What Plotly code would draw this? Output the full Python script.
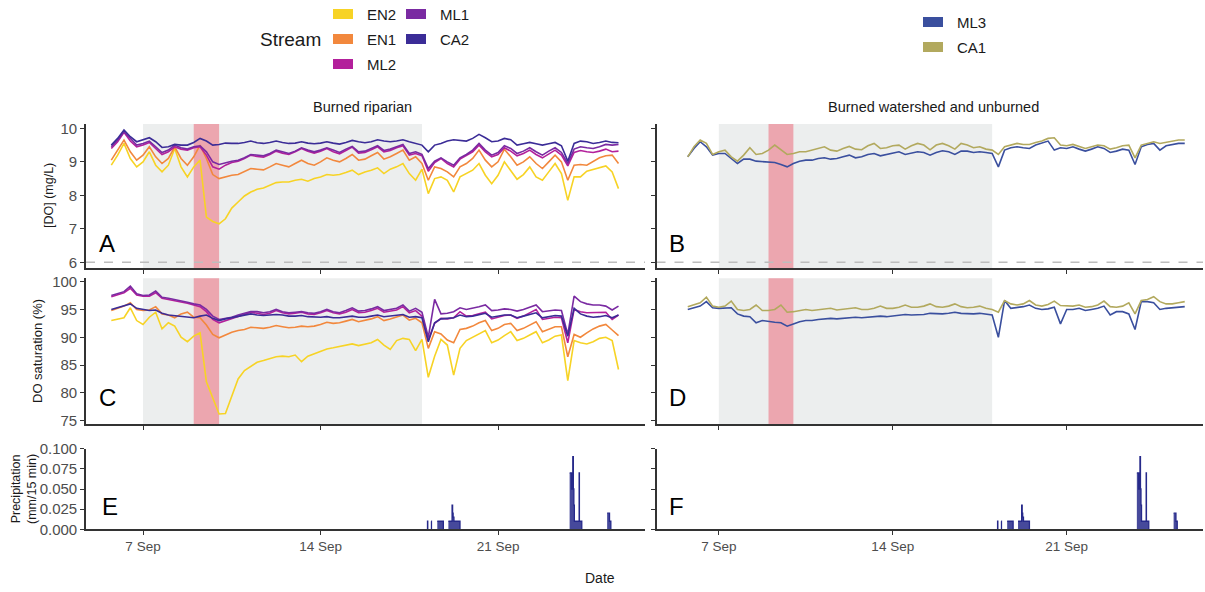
import pandas as pd
import plotly.graph_objects as go

# ---------------------------------------------------------------------------
# Data: 6-hourly dissolved-oxygen readings, 5 Sep 18:00 -> 25 Sep 18:00
# (first value = 5 Sep 18:00, then four readings per day: 00, 06, 12, 18 h)
# ---------------------------------------------------------------------------
obs_start = "2020-09-05 18:00"
n_obs = 81

# [DO] (mg/L) -- burned riparian streams
do_en2 = [8.90,
          9.20, 9.55, 9.10, 8.85,  9.00, 9.30, 8.90, 8.70,  8.90, 9.40, 8.85, 8.55,
          8.85, 9.05, 7.35, 7.22,  7.15, 7.30, 7.62, 7.80,  7.98, 8.10, 8.18, 8.22,
          8.30, 8.38, 8.40, 8.40,  8.45, 8.48, 8.42, 8.50,  8.55, 8.62, 8.60, 8.62,
          8.68, 8.75, 8.62, 8.70,  8.75, 8.82, 8.65, 8.78,  8.85, 8.95, 8.65, 8.45,
          8.78, 8.05, 8.50, 8.55,  8.45, 8.10, 8.55, 8.65,  8.75, 8.95, 8.60, 8.35,
          8.60, 9.00, 8.75, 8.48,  8.62, 8.85, 8.55, 8.45,  8.70, 8.95, 8.65, 7.85,
          8.55, 8.55, 8.72, 8.78,  8.82, 8.88, 8.70, 8.20]
do_en1 = [9.05,
          9.35, 9.65, 9.30, 9.05,  9.20, 9.45, 9.15, 8.95,  9.10, 9.45, 9.10, 8.90,
          9.15, 9.50, 9.10, 8.62,  8.50, 8.55, 8.60, 8.62,  8.70, 8.80, 8.78, 8.76,
          8.85, 8.95, 8.90, 8.85,  8.95, 9.05, 8.95, 8.90,  9.00, 9.12, 9.05, 9.00,
          9.10, 9.22, 9.05, 9.08,  9.18, 9.28, 9.08, 9.15,  9.25, 9.35, 9.05, 9.15,
          8.95, 8.45, 8.85, 8.80,  8.70, 8.55, 8.85, 8.95,  9.10, 9.35, 9.05, 8.85,
          9.00, 9.38, 9.15, 8.90,  9.00, 9.15, 8.95, 8.80,  9.00, 9.20, 9.00, 8.45,
          8.90, 8.92, 8.90, 9.00,  9.12, 9.18, 9.20, 8.95]
do_ml2 = [9.40,
          9.60, 9.88, 9.62, 9.45,  9.50, 9.58, 9.40, 9.22,  9.30, 9.45, 9.38, 9.35,
          9.42, 9.45, 9.20, 8.85,  8.78, 8.90, 8.98, 9.02,  9.10, 9.20, 9.16, 9.14,
          9.22, 9.32, 9.26, 9.22,  9.30, 9.40, 9.32, 9.26,  9.32, 9.40, 9.30, 9.24,
          9.34, 9.44, 9.26, 9.28,  9.36, 9.45, 9.30, 9.34,  9.42, 9.48, 9.20, 9.25,
          9.18, 8.72, 8.98, 9.10,  8.95, 8.85, 9.08, 9.18,  9.30, 9.50, 9.30, 9.15,
          9.22, 9.42, 9.32, 9.18,  9.25, 9.35, 9.22, 9.12,  9.24, 9.35, 9.20, 8.88,
          9.28, 9.34, 9.30, 9.28,  9.32, 9.38, 9.30, 9.32]
do_ml1 = [9.45,
          9.65, 9.90, 9.70, 9.50,  9.55, 9.62, 9.45, 9.28,  9.35, 9.50, 9.42, 9.38,
          9.45, 9.48, 9.30, 9.00,  8.92, 8.98, 9.02, 9.05,  9.12, 9.22, 9.20, 9.18,
          9.25, 9.35, 9.30, 9.25,  9.32, 9.42, 9.35, 9.30,  9.35, 9.42, 9.35, 9.28,
          9.38, 9.46, 9.30, 9.32,  9.40, 9.48, 9.34, 9.38,  9.45, 9.52, 9.25, 9.30,
          9.22, 8.80, 9.02, 9.12,  9.00, 8.90, 9.12, 9.22,  9.35, 9.55, 9.35, 9.20,
          9.28, 9.48, 9.40, 9.25,  9.32, 9.42, 9.30, 9.20,  9.32, 9.42, 9.28, 8.95,
          9.38, 9.45, 9.42, 9.40,  9.45, 9.52, 9.50, 9.52]
do_ca2 = [9.50,
          9.70, 9.95, 9.75, 9.60,  9.65, 9.72, 9.60, 9.43,  9.45, 9.52, 9.50, 9.50,
          9.58, 9.70, 9.62, 9.50,  9.52, 9.56, 9.55, 9.55,  9.58, 9.62, 9.57, 9.55,
          9.58, 9.62, 9.58, 9.55,  9.56, 9.60, 9.56, 9.54,  9.56, 9.60, 9.56, 9.53,
          9.58, 9.64, 9.60, 9.57,  9.60, 9.66, 9.62, 9.60,  9.62, 9.66, 9.60, 9.55,
          9.50, 9.30, 9.50, 9.55,  9.62, 9.66, 9.64, 9.62,  9.70, 9.82, 9.72, 9.60,
          9.62, 9.70, 9.66, 9.50,  9.54, 9.58, 9.54, 9.50,  9.54, 9.58, 9.48, 9.02,
          9.55, 9.62, 9.60, 9.55,  9.58, 9.62, 9.58, 9.57]

# [DO] (mg/L) -- burned watershed and unburned streams
do_ml3 = [9.15,
          9.40, 9.60, 9.45, 9.20,  9.25, 9.25, 9.10, 8.95,  9.08, 9.08, 9.02, 9.00,
          9.00, 8.98, 8.92, 8.85,  8.95, 9.02, 9.05, 9.05,  9.10, 9.12, 9.08, 9.10,
          9.15, 9.20, 9.12, 9.15,  9.22, 9.25, 9.18, 9.22,  9.28, 9.30, 9.22, 9.25,
          9.30, 9.28, 9.20, 9.28,  9.33, 9.30, 9.22, 9.32,  9.32, 9.28, 9.30, 9.28,
          9.25, 8.85, 9.35, 9.42,  9.45, 9.42, 9.40, 9.50,  9.55, 9.62, 9.35, 9.42,
          9.40, 9.45, 9.38, 9.32,  9.38, 9.45, 9.40, 9.28,  9.32, 9.38, 9.35, 8.92,
          9.45, 9.52, 9.55, 9.35,  9.48, 9.52, 9.55, 9.55]
do_ca1 = [9.15,
          9.45, 9.65, 9.55, 9.22,  9.30, 9.35, 9.15, 9.02,  9.20, 9.42, 9.22, 9.25,
          9.35, 9.50, 9.35, 9.22,  9.25, 9.30, 9.30, 9.35,  9.40, 9.45, 9.35, 9.32,
          9.40, 9.46, 9.38, 9.36,  9.48, 9.55, 9.40, 9.42,  9.48, 9.50, 9.38, 9.48,
          9.55, 9.50, 9.36, 9.50,  9.55, 9.48, 9.38, 9.55,  9.50, 9.42, 9.45, 9.38,
          9.35, 9.22, 9.45, 9.50,  9.55, 9.52, 9.52, 9.58,  9.62, 9.70, 9.72, 9.50,
          9.48, 9.52, 9.45, 9.40,  9.45, 9.50, 9.48, 9.38,  9.42, 9.48, 9.50, 9.12,
          9.50, 9.55, 9.60, 9.55,  9.58, 9.62, 9.65, 9.65]

# DO saturation (%) -- burned riparian streams
sat_en2 = [93.0,
           93.2, 93.5, 95.3, 93.0,  92.3, 93.6, 94.5, 91.5,  92.6, 92.0, 90.0, 89.2,
           90.2, 90.8, 82.0, 79.0,  76.2, 76.3, 79.5, 82.5,  84.0, 84.8, 85.5, 85.8,
           86.2, 86.5, 86.6, 86.5,  86.8, 85.6, 86.6, 87.0,  87.5, 87.9, 88.1, 88.3,
           88.6, 88.8, 88.5, 88.7,  89.0, 89.6, 88.6, 87.8,  89.4, 89.8, 89.6, 87.6,
           89.6, 82.8, 86.6, 89.6,  88.6, 83.2, 88.0, 89.4,  90.0, 90.5, 91.2, 89.0,
           89.5, 90.3, 91.0, 89.4,  89.8, 90.4, 91.0, 89.0,  89.5, 90.2, 90.4, 82.2,
           89.4, 89.0, 88.8, 89.2,  89.8, 90.0, 89.4, 84.2]
sat_en1 = [94.8,
           95.2, 95.6, 96.2, 95.0,  94.8, 94.9, 95.5, 94.2,  94.0, 93.5, 94.2, 94.5,
           93.6, 93.5, 92.2, 90.5,  89.9, 90.4, 90.9, 91.2,  91.4, 91.8, 91.7, 91.6,
           91.8, 92.1, 91.9, 91.7,  91.8, 92.0, 91.9, 92.0,  92.3, 92.7, 92.5, 92.6,
           92.9, 93.2, 92.8, 93.0,  93.3, 93.7, 93.0, 93.3,  93.6, 94.0, 93.1, 93.4,
           92.6, 88.0, 91.0, 90.6,  89.5, 89.0, 91.4, 91.6,  92.0, 92.6, 93.0, 91.2,
           91.6, 92.3, 92.5, 91.2,  91.6, 92.2, 92.8, 91.0,  91.4, 91.9, 91.9, 86.5,
           90.5, 90.0, 90.8, 91.5,  92.0, 92.3, 91.3, 90.3]
sat_ml2 = [97.3,
           97.6, 98.0, 98.8, 97.6,  97.4, 97.4, 98.0, 97.0,  96.8, 96.6, 96.4, 96.1,
           95.8, 95.5, 94.6, 93.2,  92.6, 93.0, 93.4, 93.8,  94.1, 94.5, 94.3, 94.1,
           94.3, 94.8, 94.4, 94.2,  94.3, 94.5, 94.2, 94.1,  94.4, 94.8, 94.4, 94.2,
           94.5, 95.0, 94.4, 94.5,  94.8, 95.2, 94.5, 94.7,  94.9, 95.5, 94.4, 94.8,
           93.8, 89.5, 92.5, 93.4,  93.3, 93.5, 94.6, 93.8,  93.9, 94.2, 94.5, 93.3,
           93.6, 93.9, 94.0, 93.4,  93.8, 94.4, 95.0, 93.2,  93.4, 93.6, 93.5, 89.0,
           95.0, 94.6, 94.4, 94.4,  94.4, 94.5, 93.2, 94.0]
sat_ml1 = [97.5,
           97.8, 98.2, 99.2, 97.8,  97.5, 97.6, 98.3, 97.2,  97.0, 96.8, 96.6, 96.3,
           96.0, 95.8, 95.0, 93.8,  93.2, 93.4, 93.6, 94.0,  94.3, 94.6, 94.6, 94.4,
           94.6, 95.0, 94.6, 94.4,  94.5, 94.6, 94.4, 94.3,  94.6, 95.0, 94.6, 94.4,
           94.8, 95.3, 94.7, 94.8,  95.1, 95.5, 94.8, 95.0,  95.2, 95.8, 94.7, 95.2,
           94.5, 90.0, 96.8, 94.2,  94.3, 94.6, 95.3, 95.0,  95.2, 95.5, 95.8, 94.8,
           94.9, 95.1, 95.0, 94.7,  95.0, 95.4, 95.8, 94.6,  94.7, 94.9, 94.8, 90.5,
           97.4, 96.4, 96.0, 95.8,  95.8, 95.6, 94.9, 95.6]
sat_ca2 = [95.0,
           95.3, 95.6, 96.0, 95.2,  95.0, 94.8, 94.9, 94.3,  94.0, 93.9, 93.8, 93.6,
           93.5, 93.8, 94.0, 93.4,  93.0, 93.3, 93.5, 93.7,  93.9, 94.2, 94.0, 93.9,
           94.0, 94.1, 94.0, 93.8,  93.8, 93.9, 93.7, 93.6,  93.6, 93.7, 93.5, 93.5,
           93.6, 93.8, 93.6, 93.6,  93.8, 94.0, 93.7, 93.8,  93.9, 94.1, 93.6, 93.7,
           93.5, 89.2, 92.6, 93.3,  93.4, 93.5, 94.0, 93.7,  93.8, 94.0, 94.3, 93.6,
           93.8, 94.0, 94.0, 93.5,  93.8, 94.1, 94.4, 93.5,  93.7, 93.9, 93.8, 90.2,
           95.2, 94.2, 93.8, 93.6,  93.7, 93.9, 93.5, 94.0]

# DO saturation (%) -- burned watershed and unburned streams
sat_ml3 = [95.0,
           95.3, 95.6, 96.4, 95.3,  95.2, 95.2, 95.3, 94.2,  93.8, 93.7, 92.6, 93.0,
           92.8, 92.7, 92.6, 92.0,  92.4, 92.8, 93.0, 93.0,  93.2, 93.3, 93.4, 93.3,
           93.4, 93.5, 93.6, 93.5,  93.6, 93.7, 93.8, 93.7,  93.8, 93.9, 94.1, 94.0,
           94.0, 94.1, 94.3, 94.2,  94.2, 94.3, 94.5, 94.3,  94.2, 94.2, 94.3, 94.1,
           94.0, 90.0, 96.6, 95.2,  95.3, 95.5, 95.8, 95.2,  95.0, 95.1, 95.4, 92.4,
           95.0, 95.0, 95.2, 94.8,  95.0, 95.2, 95.6, 94.0,  94.6, 94.6, 94.2, 91.4,
           96.4, 96.4, 96.2, 95.0,  95.2, 95.3, 95.4, 95.5]
sat_ca1 = [95.5,
           95.8, 96.2, 97.2, 95.6,  95.4, 95.6, 96.5, 95.0,  94.8, 95.0, 95.8, 94.8,
           94.8, 95.0, 95.8, 94.5,  94.6, 94.8, 95.0, 94.8,  94.9, 95.0, 95.2, 94.9,
           95.0, 95.1, 95.3, 95.0,  95.0, 95.2, 95.6, 95.2,  95.2, 95.4, 95.8, 95.4,
           95.4, 95.6, 96.0, 95.5,  95.4, 95.6, 96.0, 95.5,  95.3, 95.4, 95.6, 95.2,
           95.0, 94.5, 96.6, 96.0,  95.8, 96.0, 96.6, 95.8,  95.6, 95.9, 96.5, 95.7,
           95.6, 95.6, 95.8, 95.4,  95.5, 95.8, 96.5, 95.5,  95.4, 95.6, 96.2, 94.2,
           96.6, 96.8, 97.3, 96.4,  96.0, 96.0, 96.2, 96.4]

# Precipitation (mm / 15 min), step series
precip_time = ["2020-09-18 05:00", "2020-09-18 05:15", "2020-09-18 05:30",
               "2020-09-18 08:45", "2020-09-18 09:00",
               "2020-09-18 14:30", "2020-09-18 20:15",
               "2020-09-19 01:00", "2020-09-19 04:30", "2020-09-19 05:00",
               "2020-09-19 05:30", "2020-09-19 06:15", "2020-09-19 12:00",
               "2020-09-23 19:45", "2020-09-23 21:30", "2020-09-23 22:45",
               "2020-09-23 23:15", "2020-09-23 23:45", "2020-09-24 00:15",
               "2020-09-24 04:45", "2020-09-24 05:00", "2020-09-24 07:15",
               "2020-09-25 07:15", "2020-09-25 09:30", "2020-09-25 10:45"]
precip_mm = [0.0, 0.01, 0.0,
             0.01, 0.0,
             0.01, 0.0,
             0.01, 0.03, 0.02,
             0.015, 0.01, 0.0,
             0.07, 0.05, 0.09,
             0.05, 0.03, 0.01,
             0.07, 0.01, 0.0,
             0.02, 0.01, 0.0]

# Shaded periods
dry_period = ["2020-09-07 00:00", "2020-09-18 00:00"]
fire_period = ["2020-09-09 00:00", "2020-09-10 00:00"]

# Streams and colours
left_streams = ["EN2", "EN1", "ML2", "ML1", "CA2"]
right_streams = ["ML3", "CA1"]
stream_colors = {"EN2": "#F7D325", "EN1": "#F2883D", "ML2": "#B3209B",
                 "ML1": "#7A2AA2", "CA2": "#3B2C97", "ML3": "#3A4F9E",
                 "CA1": "#B2A95E"}
precip_color = "#26298A"

tick_dates = ["2020-09-07", "2020-09-14", "2020-09-21"]
tick_labels = ["7 Sep", "14 Sep", "21 Sep"]

times = pd.date_range(obs_start, periods=n_obs, freq="6h")

do_series = {"EN2": do_en2, "EN1": do_en1, "ML2": do_ml2, "ML1": do_ml1,
             "CA2": do_ca2, "ML3": do_ml3, "CA1": do_ca1}
sat_series = {"EN2": sat_en2, "EN1": sat_en1, "ML2": sat_ml2, "ML1": sat_ml1,
              "CA2": sat_ca2, "ML3": sat_ml3, "CA1": sat_ca1}

# Split the rain step series into separate showers (each drawn as its own
# filled step trace, so nothing runs along the zero line between showers)
showers = []
prev_t, prev_v = None, None
for t, v in zip(pd.to_datetime(precip_time), precip_mm):
    if prev_t is None or (prev_v == 0 and (t - prev_t) > pd.Timedelta(hours=2)):
        showers.append(([], []))
    showers[-1][0].append(t)
    showers[-1][1].append(v)
    prev_t, prev_v = t, v

# ---------------------------------------------------------------------------
# Layout geometry (pixels in a 1205 x 592 canvas)
# ---------------------------------------------------------------------------
W, H = 1205, 592


def xdom(a, b):
    return [a / W, b / W]


def ydom(top, bottom):
    return [1 - bottom / H, 1 - top / H]


def day_of_sep(d):
    return pd.Timestamp("2020-09-01") + pd.Timedelta(days=d - 1)


col_domain = {"L": xdom(86, 645), "R": xdom(656.5, 1203)}
col_range = {"L": [day_of_sep(4.752), day_of_sep(26.795)],
             "R": [day_of_sep(4.492), day_of_sep(26.485)]}
row_domain = {1: ydom(124, 268), 2: ydom(278.3, 424), 3: ydom(448.7, 529.3)}
row_range = {1: [5.83, 10.13], 2: [74.4, 100.6], 3: [0, 0.1]}
row_ticks = {1: [6, 7, 8, 9, 10], 2: [75, 80, 85, 90, 95, 100],
             3: [0, 0.025, 0.05, 0.075, 0.1]}

font_family = "Liberation Sans, Arial, sans-serif"
axis_col = "#333333"
xtick_font = dict(family=font_family, size=13.5, color="#4D4D4D")
ytick_font = dict(family=font_family, size=15, color="#4D4D4D")

fig = go.Figure()

# panels: (axis index, column, row)
panels = [(1, "L", 1), (2, "R", 1), (3, "L", 2), (4, "R", 2), (5, "L", 3), (6, "R", 3)]


def ax_name(kind, i):
    return f"{kind}axis" if i == 1 else f"{kind}axis{i}"


def ax_ref(kind, i):
    return kind if i == 1 else f"{kind}{i}"


for i, col, row in panels:
    fig.layout[ax_name("x", i)] = dict(
        domain=col_domain[col], range=col_range[col], type="date",
        anchor=ax_ref("y", i), showline=True, linecolor=axis_col, linewidth=1.6,
        ticks="outside", ticklen=4, tickwidth=1.4, tickcolor=axis_col,
        tickvals=tick_dates, ticktext=tick_labels, showgrid=False, zeroline=False,
        showticklabels=(row == 3), tickfont=xtick_font, automargin=False,
    )
    fig.layout[ax_name("y", i)] = dict(
        domain=row_domain[row], range=row_range[row], anchor=ax_ref("x", i),
        showline=True, linecolor=axis_col, linewidth=1.6,
        ticks="outside", ticklen=4, tickwidth=1.4, tickcolor=axis_col,
        tickvals=row_ticks[row], showgrid=False, zeroline=False,
        showticklabels=(col == "L"), tickfont=ytick_font, automargin=False,
        tickformat=".3f" if row == 3 else None,
    )

# Background bands (dry period and fire day) + 6 mg/L reference line
shapes = []
for i, col, row in panels:
    if row == 3:
        continue
    xr, yr = ax_ref("x", i), ax_ref("y", i)
    shapes.append(dict(type="rect", xref=xr, yref=f"{yr} domain",
                       x0=dry_period[0], x1=dry_period[1], y0=0, y1=1,
                       fillcolor="#ECEEEE", line_width=0, layer="below"))
    shapes.append(dict(type="rect", xref=xr, yref=f"{yr} domain",
                       x0=fire_period[0], x1=fire_period[1], y0=0, y1=1,
                       fillcolor="#ECA6AF", line_width=0, layer="below"))
    if row == 1:
        shapes.append(dict(type="line", xref=f"{xr} domain", yref=yr,
                           x0=0, x1=1, y0=6, y1=6,
                           line=dict(color="#BDBDBD", width=1.4, dash="dash"),
                           layer="below"))

# DO traces
for i, col, row in panels:
    if row == 3:
        continue
    names = left_streams if col == "L" else right_streams
    source = do_series if row == 1 else sat_series
    for name in names:
        fig.add_trace(go.Scatter(
            x=times, y=source[name], mode="lines", name=name,
            line=dict(color=stream_colors[name], width=1.6),
            xaxis=ax_ref("x", i), yaxis=ax_ref("y", i), showlegend=False,
        ))

# Precipitation traces
for i in (5, 6):
    for sx, sy in showers:
        fig.add_trace(go.Scatter(
            x=sx, y=sy, mode="lines", line_shape="hv",
            line=dict(color=precip_color, width=1.3), fill="tozeroy",
            fillcolor="rgba(38,41,138,0.85)",
            xaxis=ax_ref("x", i), yaxis=ax_ref("y", i), showlegend=False,
        ))

# ---------------------------------------------------------------------------
# Text: facet titles, axis titles, panel letters, legends
# ---------------------------------------------------------------------------
annotations = []


def text_at(x, y, text, size=13, color="#1A1A1A", angle=0, xanchor="center",
            yanchor="middle"):
    annotations.append(dict(x=x / W, y=1 - y / H, xref="paper", yref="paper",
                            text=text, showarrow=False, textangle=angle,
                            xanchor=xanchor, yanchor=yanchor,
                            font=dict(family=font_family, size=size, color=color)))


text_at(362, 107, "Burned riparian", size=14.5)
text_at(933, 107, "Burned watershed and unburned", size=14.5)
text_at(600, 578, "Date", size=14)

text_at(49, 196, "[DO] (mg/L)", size=12.5, angle=-90)
text_at(37, 351, "DO saturation (%)", size=13, angle=-90)
text_at(24, 489, "Precipitation<br>(mm/15 min)", size=12.5, angle=-90)

for letter, x, y in [("A", 97, 243), ("B", 667, 243), ("C", 97, 397),
                     ("D", 667, 397), ("E", 100, 506), ("F", 667, 506)]:
    text_at(x, y, letter, size=24, color="#000000", xanchor="left")

# Legend: left group
text_at(290, 40, "Stream", size=19)
legend_left = [("EN2", 333, 14), ("EN1", 333, 39), ("ML2", 333, 64),
               ("ML1", 406, 14), ("CA2", 406, 39)]
legend_right = [("ML3", 923, 22), ("CA1", 923, 47)]
for name, x, y in legend_left + legend_right:
    shapes.append(dict(type="rect", xref="paper", yref="paper",
                       x0=x / W, x1=(x + 20) / W, y0=1 - (y + 5) / H, y1=1 - (y - 5) / H,
                       fillcolor=stream_colors[name], line_width=0))
    text_at(x + 32, y, name, size=15, xanchor="left")

fig.update_layout(
    width=W, height=H, margin=dict(l=0, r=0, t=0, b=0, autoexpand=False),
    paper_bgcolor="white", plot_bgcolor="rgba(0,0,0,0)",
    shapes=shapes, annotations=annotations, showlegend=False,
)

fig.write_html("out.html")
